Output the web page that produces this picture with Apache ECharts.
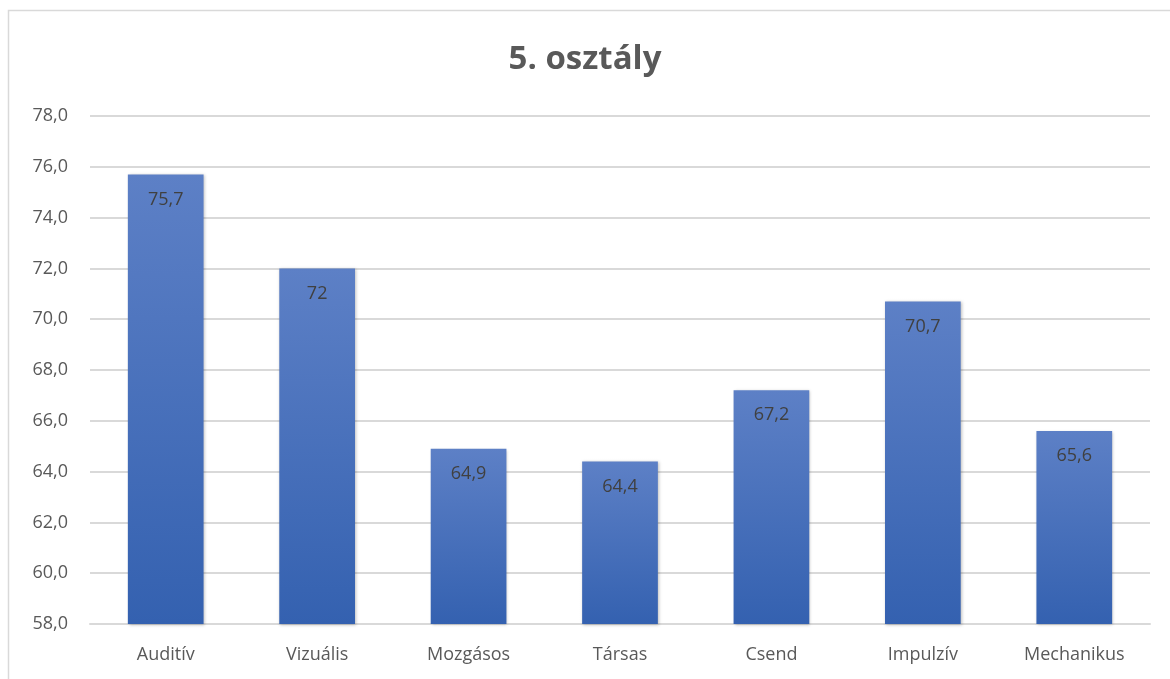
<!DOCTYPE html>
<html>
<head>
<meta charset="utf-8">
<script src="https://cdn.jsdelivr.net/npm/echarts@6/dist/echarts.min.js"></script>
<style>
html, body { margin: 0; padding: 0; background: #fff; }
#main { width: 1170px; height: 679px; }
</style>
</head>
<body>
<div id="main"></div>
<script>
var categories = ['Auditív', 'Vizuális', 'Mozgásos', 'Társas', 'Csend', 'Impulzív', 'Mechanikus'];
var values = [75.7, 72, 64.9, 64.4, 67.2, 70.7, 65.6];

var myChart = echarts.init(document.getElementById('main'));
var option = {
	backgroundColor: '#fff',
	textStyle: { fontFamily: 'Open Sans' },
	title: {
		text: '5. osztály',
		left: 'center',
		top: 38,
		textStyle: { fontSize: 33, fontWeight: 'bold', color: '#595959', fontFamily: 'Open Sans' }
	},
	graphic: [{
		type: 'rect',
		shape: { x: 8.5, y: 10.5, width: 1170, height: 700 },
		style: { fill: 'none', stroke: '#d9d9d9', lineWidth: 1.5 },
		silent: true
	}],
	grid: { left: 90, right: 20, top: 116, bottom: 55 },
	xAxis: {
		type: 'category',
		data: categories,
		axisLine: { lineStyle: { color: '#d9d9d9', width: 2 } },
		axisTick: { show: false },
		axisLabel: { color: '#595959', fontSize: 18, margin: 22 }
	},
	yAxis: {
		type: 'value',
		min: 58,
		max: 78,
		interval: 2,
		axisLine: { show: false },
		axisTick: { show: false },
		splitLine: { lineStyle: { color: '#d9d9d9', width: 2 } },
		axisLabel: {
			color: '#595959',
			fontSize: 18,
			margin: 22,
			formatter: function (v) { return v.toFixed(1).replace('.', ','); }
		}
	},
	series: [{
		type: 'bar',
		data: values,
		barWidth: '50%',
		itemStyle: {
			color: new echarts.graphic.LinearGradient(0, 0, 0, 1, [
				{ offset: 0, color: '#5d80c6' },
				{ offset: 1, color: '#3461b0' }
			]),
			shadowColor: 'rgba(0,0,0,0.25)',
			shadowBlur: 3,
			shadowOffsetX: 1,
			shadowOffsetY: 1
		},
		label: {
			show: true,
			position: 'insideTop',
			distance: 16,
			color: '#404040',
			fontSize: 18,
			formatter: function (p) { return String(p.value).replace('.', ','); }
		}
	}]
};
myChart.setOption(option);
</script>
</body>
</html>
